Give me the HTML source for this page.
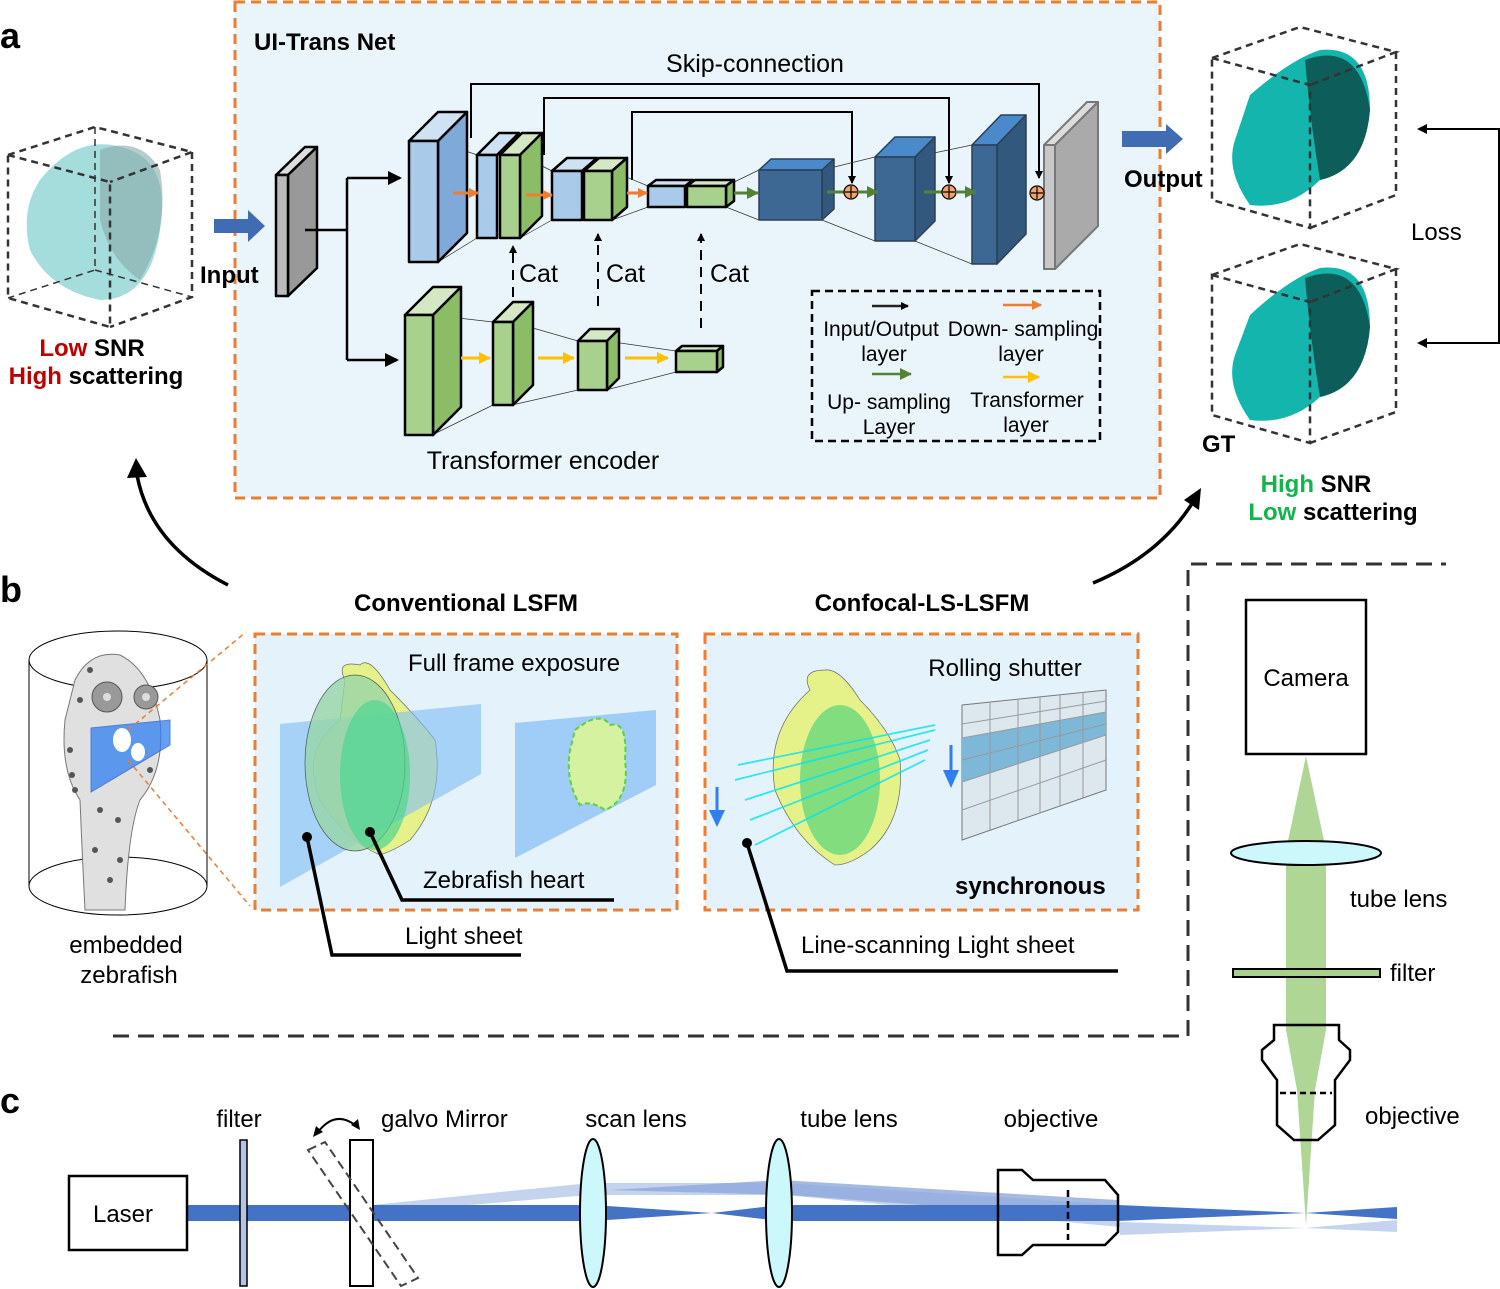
<!DOCTYPE html>
<html><head><meta charset="utf-8"><style>
body{margin:0;background:#fff}
svg{display:block}
text{font-family:"Liberation Sans",Arial,sans-serif;fill:#000}
.b{font-weight:bold}
</style></head><body>
<svg width="1500" height="1289" viewBox="0 0 1500 1289" xmlns="http://www.w3.org/2000/svg">
<defs>
<marker id="ak" markerWidth="8" markerHeight="8" refX="7" refY="4" orient="auto" markerUnits="userSpaceOnUse"><path d="M0,0L8,4L0,8z" fill="#000"/></marker>
<marker id="ak2" markerWidth="14" markerHeight="14" refX="12" refY="7" orient="auto" markerUnits="userSpaceOnUse"><path d="M0,0L14,7L0,14z" fill="#000"/></marker>
<marker id="ao" markerWidth="10" markerHeight="10" refX="9" refY="5" orient="auto" markerUnits="userSpaceOnUse"><path d="M0,0L10,5L0,10z" fill="#ed7d31"/></marker>
<marker id="ag" markerWidth="12" markerHeight="12" refX="11" refY="6" orient="auto" markerUnits="userSpaceOnUse"><path d="M0,0L12,6L0,12z" fill="#548235"/></marker>
<marker id="ay" markerWidth="12" markerHeight="12" refX="11" refY="6" orient="auto" markerUnits="userSpaceOnUse"><path d="M0,0L12,6L0,12z" fill="#ffc000"/></marker>
</defs>

<!-- Panel a -->
<text x="0" y="48" class="b" font-size="36">a</text>
<rect x="235" y="2" width="925" height="496" fill="#eaf4fb" stroke="#ed7d31" stroke-width="3" stroke-dasharray="10,6"/>
<text x="254" y="50" class="b" font-size="24">UI-Trans Net</text>
<text x="755" y="72" font-size="25" text-anchor="middle">Skip-connection</text>

<g stroke="#000" stroke-width="2" fill="none">
<path d="M471,138V84H1039V178" marker-end="url(#ak)"/>
<path d="M544,155V98H949V183" marker-end="url(#ak)"/>
<path d="M632,180V112H852V183" marker-end="url(#ak)"/>
</g>

<g stroke="#333" stroke-width="0.7" fill="none">
<line x1="438" y1="141" x2="477" y2="155"/><line x1="438" y1="262" x2="477" y2="238"/>
<line x1="520" y1="155" x2="552" y2="171"/><line x1="520" y1="238" x2="552" y2="220"/>
<line x1="612" y1="171" x2="648" y2="186"/><line x1="612" y1="220" x2="648" y2="207"/>
<line x1="726" y1="186" x2="759" y2="170"/><line x1="726" y1="207" x2="759" y2="220"/>
<line x1="822" y1="170" x2="875" y2="157"/><line x1="822" y1="220" x2="875" y2="241"/>
<line x1="915" y1="157" x2="972" y2="145"/><line x1="915" y1="241" x2="972" y2="264"/>
<line x1="432" y1="315" x2="493" y2="322"/><line x1="432" y1="435" x2="493" y2="405"/>
<line x1="512" y1="322" x2="578" y2="341"/><line x1="512" y1="405" x2="578" y2="390"/>
<line x1="606" y1="341" x2="676" y2="351"/><line x1="606" y1="390" x2="676" y2="372"/>
</g>

<g stroke="#000" stroke-width="2.5" stroke-linejoin="round">
<polygon points="276,175 305,147 317,147 288,175" fill="#ddd"/>
<polygon points="288,175 317,147 317,268 288,296" fill="#999"/>
<rect x="276" y="175" width="12" height="121" fill="#bbb"/>
</g>
<g stroke="#000" stroke-width="2.5" fill="none">
<path d="M305,230H347M347,178V360"/>
<path d="M347,178H400" marker-end="url(#ak2)"/>
<path d="M347,360H397" marker-end="url(#ak2)"/>
</g>

<g stroke="#000" stroke-width="2.5" stroke-linejoin="round">
<polygon points="409,141 438,112 467,112 438,141" fill="#cfe2f3"/>
<polygon points="438,141 467,112 467,233 438,262" fill="#7fa9d9"/>
<rect x="409" y="141" width="29" height="121" fill="#a9cbe9"/>
<polygon points="477,155 499,133 519,133 497,155" fill="#cfe2f3"/>
<rect x="477" y="155" width="20" height="83" fill="#a9cbe9"/>
<polygon points="500,155 522,133 542,133 520,155" fill="#d5e8c4"/>
<polygon points="520,155 542,133 542,216 520,238" fill="#8abd65"/>
<rect x="500" y="155" width="20" height="83" fill="#a9d18e"/>
<polygon points="552,171 567,158 597,158 582,171" fill="#cfe2f3"/>
<rect x="552" y="171" width="30" height="49" fill="#a9cbe9"/>
<polygon points="584,171 599,158 627,158 612,171" fill="#d5e8c4"/>
<polygon points="612,171 627,158 627,207 612,220" fill="#8abd65"/>
<rect x="584" y="171" width="28" height="49" fill="#a9d18e"/>
<polygon points="648,186 656,180 693,180 685,186" fill="#cfe2f3"/>
<rect x="648" y="186" width="37" height="21" fill="#a9cbe9"/>
<polygon points="687,186 695,180 734,180 726,186" fill="#d5e8c4"/>
<polygon points="726,186 734,180 734,201 726,207" fill="#8abd65"/>
<rect x="687" y="186" width="39" height="21" fill="#a9d18e"/>
</g>
<g stroke="#2a3f57" stroke-width="1.5" stroke-linejoin="round">
<polygon points="759,170 771,159 834,159 822,170" fill="#4a8acb"/>
<polygon points="822,170 834,159 834,209 822,220" fill="#33587e"/>
<rect x="759" y="170" width="63" height="50" fill="#3d6894"/>
<polygon points="875,157 895,137 935,137 915,157" fill="#4a8acb"/>
<polygon points="915,157 935,137 935,221 915,241" fill="#33587e"/>
<rect x="875" y="157" width="40" height="84" fill="#3d6894"/>
<polygon points="972,145 1001,115 1026,115 997,145" fill="#4a8acb"/>
<polygon points="997,145 1026,115 1026,234 997,264" fill="#33587e"/>
<rect x="972" y="145" width="25" height="119" fill="#3d6894"/>
</g>
<g stroke="#777" stroke-width="2" stroke-linejoin="round">
<polygon points="1044,145 1087,102 1098,102 1055,145" fill="#ddd"/>
<polygon points="1055,145 1098,102 1098,226 1055,269" fill="#aaa"/>
<rect x="1044" y="145" width="11" height="124" fill="#c8c8c8"/>
</g>
<g stroke-width="3" fill="none">
<path d="M453,193H478" stroke="#ed7d31" marker-end="url(#ao)"/>
<path d="M526,195H552" stroke="#ed7d31" marker-end="url(#ao)"/>
<path d="M627,193H647" stroke="#ed7d31" marker-end="url(#ao)"/>
<path d="M734,193H758" stroke="#548235" marker-end="url(#ag)"/>
<path d="M827,192H844" stroke="#548235"/>
<path d="M859,192H878" stroke="#548235" marker-end="url(#ag)"/>
<path d="M924,192H942" stroke="#548235"/>
<path d="M957,192H976" stroke="#548235" marker-end="url(#ag)"/>
</g>
<g stroke="#000" stroke-width="1.2" fill="#f4a46a">
<circle cx="851" cy="192" r="7"/><circle cx="949" cy="192" r="7"/><circle cx="1037" cy="193" r="7"/>
<path d="M845,192h12M851,186v12M943,192h12M949,186v12M1031,193h12M1037,187v12" fill="none"/>
</g>

<g stroke="#000" stroke-width="2.5" stroke-linejoin="round">
<polygon points="405,315 433,287 461,287 433,315" fill="#d5e8c4"/>
<polygon points="433,315 461,287 461,407 433,435" fill="#8abd65"/>
<rect x="405" y="315" width="28" height="120" fill="#a9d18e"/>
<polygon points="493,322 513,302 533,302 513,322" fill="#d5e8c4"/>
<polygon points="513,322 533,302 533,385 513,405" fill="#8abd65"/>
<rect x="493" y="322" width="20" height="83" fill="#a9d18e"/>
<polygon points="578,341 590,329 619,329 607,341" fill="#d5e8c4"/>
<polygon points="607,341 619,329 619,378 607,390" fill="#8abd65"/>
<rect x="578" y="341" width="29" height="49" fill="#a9d18e"/>
<polygon points="676,351 682,346 723,346 717,351" fill="#d5e8c4"/>
<polygon points="717,351 723,346 723,367 717,372" fill="#8abd65"/>
<rect x="676" y="351" width="41" height="21" fill="#a9d18e"/>
</g>
<g stroke="#ffc000" stroke-width="3" fill="none">
<path d="M461,358H490" marker-end="url(#ay)"/>
<path d="M538,358H574" marker-end="url(#ay)"/>
<path d="M625,358H668" marker-end="url(#ay)"/>
</g>
<g stroke="#000" stroke-width="2" fill="none" stroke-dasharray="10,7">
<path d="M513,297V246" marker-end="url(#ak)"/>
<path d="M598,306V234" marker-end="url(#ak)"/>
<path d="M701,328V234" marker-end="url(#ak)"/>
</g>
<text x="519" y="282" font-size="25">Cat</text>
<text x="606" y="282" font-size="25">Cat</text>
<text x="710" y="282" font-size="25">Cat</text>
<text x="543" y="469" font-size="25" text-anchor="middle">Transformer encoder</text>

<rect x="812" y="291" width="288" height="150" fill="none" stroke="#000" stroke-width="2.5" stroke-dasharray="8,5"/>
<g stroke-width="2.5" fill="none">
<path d="M872,306H908" stroke="#222" marker-end="url(#ak)"/>
<path d="M1003,305H1041" stroke="#ed7d31" marker-end="url(#ao)"/>
<path d="M872,374H911" stroke="#548235" marker-end="url(#ag)"/>
<path d="M1003,377H1039" stroke="#ffc000" marker-end="url(#ay)"/>
</g>
<g font-size="21" text-anchor="middle">
<text x="881" y="336">Input/Output</text><text x="884" y="361">layer</text>
<text x="1023" y="336">Down- sampling</text><text x="1021" y="361">layer</text>
<text x="889" y="409">Up- sampling</text><text x="889" y="434">Layer</text>
<text x="1027" y="407">Transformer</text><text x="1026" y="432">layer</text>
</g>

<g>
<path d="M40,180 Q80,130 130,150 Q170,165 160,230 Q150,300 100,300 Q50,290 30,250 Q20,210 40,180Z" fill="#8fd3d3" opacity="0.8"/>
<path d="M100,150 Q140,135 160,170 Q170,230 140,280 Q110,260 100,220Z" fill="#8aa" opacity="0.6"/>
<g fill="none" stroke="#333" stroke-width="2.5" stroke-dasharray="7,5">
<path d="M8,155L110,182L110,327L8,298Z"/>
<path d="M8,155L95,127L192,152L110,182M192,152L192,297L110,327"/>
<path d="M95,127V270L8,298M95,270L192,297" stroke-width="1.5"/>
</g>
</g>
<path d="M214,219H248V210L265,226L248,242V233H214Z" fill="#3f6cb3"/>
<text x="200" y="283" class="b" font-size="24">Input</text>
<text x="92" y="356" class="b" font-size="24" text-anchor="middle"><tspan fill="#c00000">Low</tspan> SNR</text>
<text x="96" y="384" class="b" font-size="24" text-anchor="middle"><tspan fill="#c00000">High</tspan> scattering</text>

<path d="M1122,131H1166V124L1183,139L1166,154V147H1122Z" fill="#3f6cb3"/>
<text x="1124" y="187" class="b" font-size="24">Output</text>
<g>
<path d="M1250,95 Q1290,60 1320,50 Q1370,45 1370,110 Q1365,170 1320,180 Q1290,210 1250,205 Q1225,170 1235,140Z" fill="#13b5ad"/>
<path d="M1305,60 Q1360,40 1370,110 Q1365,170 1320,180 Q1310,120 1305,60Z" fill="#0d5e5a"/>
<g fill="none" stroke="#333" stroke-width="2.5" stroke-dasharray="7,5">
<path d="M1212,58L1310,85L1310,228L1212,200Z"/>
<path d="M1212,58L1300,27L1396,52L1310,85M1396,52L1396,195L1310,228"/>
</g>
</g>
<g>
<path d="M1250,315 Q1290,278 1320,268 Q1370,262 1370,327 Q1365,387 1320,397 Q1290,425 1250,420 Q1225,385 1235,355Z" fill="#13b5ad"/>
<path d="M1305,278 Q1360,258 1370,327 Q1365,387 1320,397 Q1310,337 1305,278Z" fill="#0d5e5a"/>
<g fill="none" stroke="#333" stroke-width="2.5" stroke-dasharray="7,5">
<path d="M1212,275L1310,302L1310,443L1212,415Z"/>
<path d="M1212,275L1300,244L1396,269L1310,302M1396,269L1396,412L1310,443"/>
</g>
</g>
<text x="1202" y="452" class="b" font-size="24">GT</text>
<path d="M1426,129H1499V343H1426" stroke="#000" stroke-width="2" fill="none"/>
<path d="M1417,129l10,-5v10z M1417,343l10,-5v10z" fill="#000"/>
<text x="1411" y="240" font-size="24">Loss</text>
<text x="1316" y="492" class="b" font-size="24" text-anchor="middle"><tspan fill="#12b54a">High</tspan> SNR</text>
<text x="1333" y="520" class="b" font-size="24" text-anchor="middle"><tspan fill="#12b54a">Low</tspan> scattering</text>

<g stroke="#000" stroke-width="3.5" fill="none">
<path d="M228,585 Q150,545 137,475"/>
<path d="M1093,583 Q1160,555 1193,502"/>
</g>
<path d="M127,478L136,458L147,477Z" fill="#000"/>
<path d="M1184,500L1201,488L1199,510Z" fill="#000"/>

<!-- Panel b -->
<text x="0" y="602" class="b" font-size="36">b</text>
<text x="466" y="611" class="b" font-size="24" text-anchor="middle">Conventional LSFM</text>
<text x="922" y="611" class="b" font-size="24" text-anchor="middle">Confocal-LS-LSFM</text>
<path d="M113,1036H1188V564H1446" fill="none" stroke="#333" stroke-width="3" stroke-dasharray="16,9"/>

<g fill="none" stroke="#000" stroke-width="1">
<ellipse cx="118" cy="660" rx="89" ry="29"/>
<ellipse cx="118" cy="886" rx="89" ry="29"/>
<line x1="29" y1="660" x2="29" y2="886"/><line x1="207" y1="660" x2="207" y2="886"/>
</g>
<path d="M75,680 Q90,650 120,655 Q150,670 160,720 Q165,770 140,800 Q128,830 125,910 L85,910 Q82,850 80,800 Q60,770 65,720Z" fill="#e0e0e0" stroke="#777" stroke-width="1"/>
<g fill="#555">
<circle cx="80" cy="700" r="3"/><circle cx="70" cy="750" r="3"/><circle cx="75" cy="790" r="3"/><circle cx="150" cy="770" r="3"/><circle cx="95" cy="850" r="3"/><circle cx="118" cy="820" r="3"/><circle cx="110" cy="880" r="3"/><circle cx="90" cy="670" r="3"/><circle cx="145" cy="705" r="3"/><circle cx="72" cy="775" r="3"/><circle cx="100" cy="810" r="3"/><circle cx="120" cy="860" r="3"/>
</g>
<circle cx="107" cy="697" r="15" fill="#999" stroke="#555"/><circle cx="107" cy="697" r="4" fill="#ddd"/>
<circle cx="146" cy="697" r="12" fill="#999" stroke="#555"/><circle cx="146" cy="697" r="4" fill="#ddd"/>
<polygon points="91,728 170,720 170,745 91,792" fill="#2f7ff0" opacity="0.75" stroke="#1f5ad0"/>
<ellipse cx="122" cy="740" rx="9" ry="12" fill="#fff"/><ellipse cx="138" cy="752" rx="7" ry="9" fill="#fff"/>
<g stroke="#ed7d31" stroke-width="1.5" stroke-dasharray="5,4"><line x1="128" y1="730" x2="246" y2="632"/><line x1="128" y1="760" x2="250" y2="906"/></g>
<text x="126" y="953" font-size="24" text-anchor="middle">embedded</text>
<text x="129" y="983" font-size="24" text-anchor="middle">zebrafish</text>

<rect x="255" y="634" width="422" height="276" fill="#e3f2fb" stroke="#ed7d31" stroke-width="3" stroke-dasharray="10,6"/>
<text x="514" y="671" font-size="24" text-anchor="middle">Full frame exposure</text>
<path d="M345,680 Q335,660 360,665 Q370,655 390,690 Q420,720 435,740 Q445,800 410,840 Q395,850 380,855 Q345,840 320,800 Q300,750 340,720Z" fill="#e5f28a" stroke="#666" stroke-width="0.7"/>
<polygon points="280,724 481,704 481,774 280,887" fill="#7fbcf5" opacity="0.6"/>
<ellipse cx="355" cy="763" rx="50" ry="88" fill="#99d6a8" opacity="0.8" stroke="#333" stroke-width="0.7"/>
<ellipse cx="375" cy="775" rx="35" ry="75" fill="#4fd690" opacity="0.7"/>
<polygon points="515,723 656,710 656,785 515,858" fill="#8fc3f7" opacity="0.8"/>
<path d="M575,730 Q600,710 610,725 Q628,720 625,760 Q630,800 605,810 Q590,800 580,805 Q565,780 570,750Z" fill="#d4f2a0" stroke="#5fd03e" stroke-width="2" stroke-dasharray="5,3"/>
<text x="423" y="888" font-size="24">Zebrafish heart</text>
<g stroke="#000" stroke-width="3.5" fill="none">
<path d="M370,832L402,900H614"/>
<path d="M307,837L332,955H521"/>
</g>
<circle cx="370" cy="832" r="5"/><circle cx="307" cy="837" r="5"/>
<text x="405" y="944" font-size="24">Light sheet</text>

<rect x="705" y="634" width="433" height="276" fill="#e3f2fb" stroke="#ed7d31" stroke-width="3" stroke-dasharray="10,6"/>
<text x="1005" y="676" font-size="24" text-anchor="middle">Rolling shutter</text>
<path d="M810,690 Q800,670 825,670 Q840,668 860,700 Q890,730 900,760 Q905,820 870,850 Q850,865 835,865 Q795,840 775,790 Q765,730 810,690Z" fill="#e5f28a" stroke="#666" stroke-width="0.7"/>
<ellipse cx="840" cy="780" rx="40" ry="75" fill="#5fd67a" opacity="0.75"/>
<g stroke="#00e5f0" stroke-width="1.8" opacity="0.8">
<line x1="738" y1="765" x2="935" y2="725"/><line x1="735" y1="780" x2="935" y2="730"/><line x1="745" y1="800" x2="930" y2="740"/><line x1="750" y1="820" x2="928" y2="750"/><line x1="755" y1="845" x2="925" y2="760"/>
</g>
<polygon points="962,705 1106,690 1106,790 962,840" fill="#dde8ee" stroke="#777"/>
<polygon points="962,738 1106,712 1106,735 962,782" fill="#7db8d8"/>
<g stroke="#999" stroke-width="1">
<line x1="962" y1="724" x2="1106" y2="701"/><line x1="962" y1="738" x2="1106" y2="712"/><line x1="962" y1="760" x2="1106" y2="724"/><line x1="962" y1="782" x2="1106" y2="735"/><line x1="962" y1="810" x2="1106" y2="760"/>
<line x1="990" y1="703" x2="990" y2="830"/><line x1="1018" y1="700" x2="1018" y2="820"/><line x1="1040" y1="697" x2="1040" y2="812"/><line x1="1060" y1="695" x2="1060" y2="806"/><line x1="1083" y1="692" x2="1083" y2="798"/>
</g>
<path d="M717,787V812" stroke="#2f7ff0" stroke-width="3"/><path d="M709,810L717,827L725,810Z" fill="#2f7ff0"/>
<path d="M951,745V771" stroke="#2f7ff0" stroke-width="3"/><path d="M943,770L951,788L959,770Z" fill="#2f7ff0"/>
<text x="955" y="894" class="b" font-size="24">synchronous</text>
<path d="M747,843L787,971H1118" stroke="#000" stroke-width="3.5" fill="none"/>
<circle cx="747" cy="843" r="5"/>
<text x="801" y="953" font-size="24">Line-scanning Light sheet</text>

<rect x="1246" y="600" width="120" height="154" fill="#fff" stroke="#000" stroke-width="2.5"/>
<text x="1306" y="686" font-size="24" text-anchor="middle">Camera</text>
<polygon points="1306,756 1326,850 1326,1030 1315,1090 1306,1225 1297,1090 1286,1030 1286,850" fill="#8ec46a" opacity="0.7"/>
<ellipse cx="1306" cy="853" rx="75" ry="12" fill="#ccf7fb" stroke="#000" stroke-width="2"/>
<text x="1350" y="907" font-size="24">tube lens</text>
<rect x="1233" y="969" width="147" height="8" fill="#a9d18e" stroke="#000" stroke-width="2"/>
<text x="1390" y="981" font-size="24">filter</text>
<path d="M1274,1025H1339V1040L1350,1050V1060L1335,1080V1125L1318,1140H1294L1277,1125V1080L1262,1060V1050L1274,1040Z" fill="none" stroke="#000" stroke-width="2.5"/>
<line x1="1280" y1="1093" x2="1332" y2="1093" stroke="#000" stroke-width="2.5" stroke-dasharray="6,4"/>
<text x="1365" y="1124" font-size="24">objective</text>

<!-- Panel c -->
<text x="0" y="1113" class="b" font-size="36">c</text>
<polygon points="372,1205 590,1183 785,1183 1120,1205 1120,1227 785,1195 590,1195 372,1213" fill="#c4d3ee"/>
<polygon points="610,1190 780,1180 1118,1200 1118,1220 790,1195" fill="#8ea9dc" opacity="0.8"/>
<rect x="187" y="1205" width="405" height="16" fill="#4472c4"/>
<polygon points="592,1205 712,1213 592,1221" fill="#4472c4"/>
<polygon points="712,1213 780,1205 1118,1205 1118,1221 780,1221" fill="#4472c4"/>
<polygon points="1118,1205 1305,1213 1118,1221" fill="#4472c4"/>
<polygon points="1305,1213 1397,1207 1397,1219" fill="#4472c4"/>
<polygon points="1120,1222 1305,1228 1397,1220 1397,1232 1305,1228 1120,1235" fill="#c4d3ee"/>
<rect x="69" y="1176" width="118" height="74" fill="#fff" stroke="#000" stroke-width="2.5"/>
<text x="123" y="1222" font-size="24" text-anchor="middle">Laser</text>
<rect x="240" y="1140" width="7" height="146" fill="#b4c4e6" stroke="#000" stroke-width="1.5"/>
<text x="239" y="1127" font-size="24" text-anchor="middle">filter</text>
<rect x="350" y="1140" width="23" height="146" fill="#fff" stroke="#000" stroke-width="2"/>
<polygon points="308,1150 325,1142 418,1278 401,1286" fill="none" stroke="#444" stroke-width="2" stroke-dasharray="9,5"/>
<path d="M318,1132 Q335,1110 355,1125" fill="none" stroke="#000" stroke-width="2"/>
<path d="M313,1137l3,-11l7,6z M360,1130l-2,-11l-7,6z" fill="#000"/>
<text x="381" y="1127" font-size="24">galvo Mirror</text>
<ellipse cx="593" cy="1213" rx="13" ry="74" fill="#ccf7fb" stroke="#000" stroke-width="2"/>
<text x="636" y="1127" font-size="24" text-anchor="middle">scan lens</text>
<ellipse cx="779" cy="1213" rx="13" ry="74" fill="#ccf7fb" stroke="#000" stroke-width="2"/>
<text x="849" y="1127" font-size="24" text-anchor="middle">tube lens</text>
<path d="M998,1170H1022L1033,1180H1105L1118,1195V1232L1105,1245H1033L1022,1255H998Z" fill="none" stroke="#000" stroke-width="2.5"/>
<line x1="1068" y1="1190" x2="1068" y2="1240" stroke="#000" stroke-width="2.5" stroke-dasharray="7,4"/>
<text x="1051" y="1127" font-size="24" text-anchor="middle">objective</text>
</svg>
</body></html>
